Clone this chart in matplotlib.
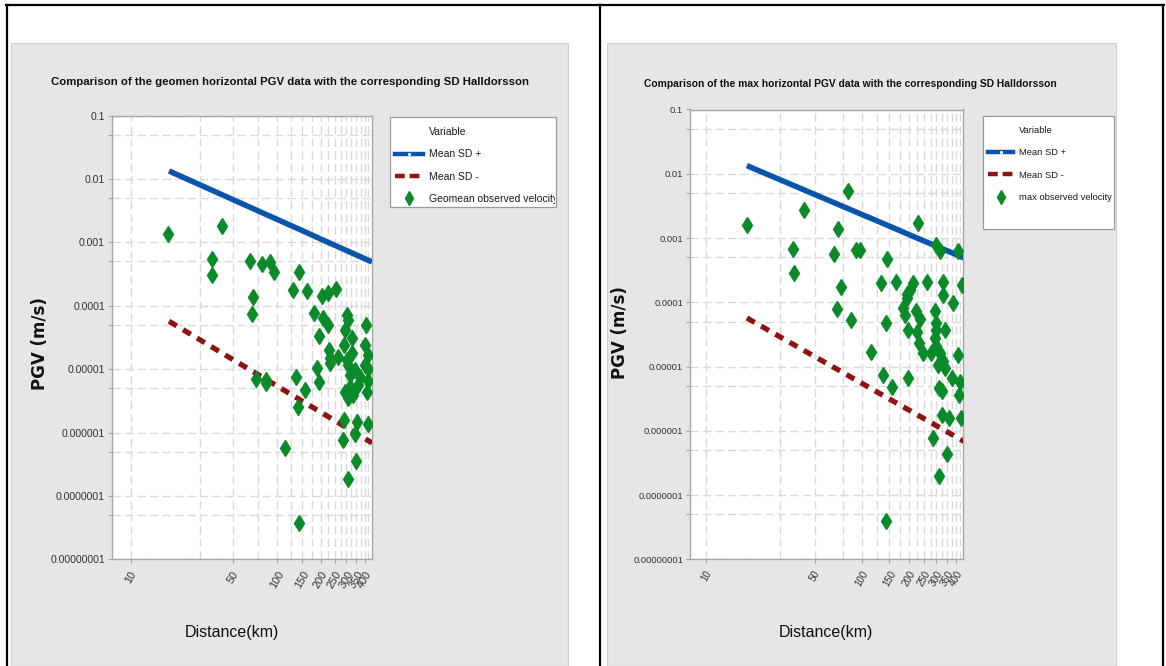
import matplotlib
matplotlib.use('Agg')
import matplotlib.pyplot as plt
from matplotlib import font_manager
from matplotlib.patches import Rectangle
from matplotlib.lines import Line2D
from matplotlib.transforms import Bbox, TransformedBbox
from matplotlib.ticker import FixedLocator, NullFormatter, FixedFormatter

# ---------------- data ----------------
line_dist = [18.3, 20, 25, 30, 40, 50, 70, 100, 150, 200, 300, 400, 450]
mean_sd_plus = [0.0134, 0.0122, 0.00968, 0.00803, 0.00597, 0.00474, 0.00335,
                0.00232, 0.00153, 0.00113, 0.000746, 0.000554, 0.000491]
mean_sd_minus = [5.7e-5, 5.03e-5, 3.70e-5, 2.88e-5, 1.93e-5, 1.42e-5, 8.94e-6,
                 5.46e-6, 3.12e-6, 2.10e-6, 1.20e-6, 8.05e-7, 6.85e-7]

geo_dist = [18.1, 42.4, 35.9, 36.2, 65.9, 79.6, 90.3, 95.7, 68.8, 67.8,
            143, 130, 161, 203, 225, 256, 180, 208, 225, 301,
            309, 407, 195, 294, 327, 290, 228, 264, 233, 327,
            425, 402, 309, 345, 316, 373, 425, 189, 194, 157,
            316, 334, 414, 309, 290, 355, 420, 284, 344, 309,
            349, 141.6, 114.6, 72.1, 84, 85, 135, 141, 231, 301,
            362, 294, 402, 425]
geo_pgv = [1.34e-3, 1.82e-3, 5.4e-4, 3.1e-4, 5.1e-4, 4.6e-4, 4.9e-4, 3.4e-4, 1.38e-4, 7.3e-5,
           3.4e-4, 1.77e-4, 1.7e-4, 1.45e-4, 1.6e-4, 1.85e-4, 7.8e-5, 6.4e-5, 5.0e-5, 7.2e-5,
           6.0e-5, 4.9e-5, 3.3e-5, 4.1e-5, 3.07e-5, 2.4e-5, 2.0e-5, 1.57e-5, 1.24e-5, 1.78e-5,
           1.67e-5, 1.16e-5, 1.16e-5, 9.7e-6, 8.1e-6, 7.6e-6, 6.4e-6, 1.03e-5, 6.2e-6, 4.7e-6,
           5.3e-6, 3.9e-6, 4.4e-6, 3.5e-6, 1.58e-6, 1.49e-6, 1.37e-6, 7.6e-7, 9.5e-7, 1.85e-7,
           3.6e-7, 3.8e-8, 5.65e-7, 6.9e-6, 6.8e-6, 6.0e-6, 7.4e-6, 2.5e-6, 1.5e-5, 1.4e-5,
           5.6e-6, 4.4e-6, 2.4e-5, 1.0e-5]

max_dist = [18.4, 42.7, 36.3, 36.6, 70.5, 81.3, 66.4, 91.2, 97, 73,
            144, 228, 298, 316, 414, 132, 164, 211, 260, 332,
            436, 195, 332, 203, 69.1, 85.3, 142, 115, 136, 156,
            196, 196, 184, 189, 222, 235, 226, 233, 245, 276,
            294, 298, 296, 294, 340, 385, 316, 307, 332, 340,
            376, 312, 328, 414, 424, 420, 324, 361, 429, 286,
            353, 312, 142.5, 193, 298]
max_pgv = [1.6e-3, 2.7e-3, 6.8e-4, 2.9e-4, 1.37e-3, 5.3e-3, 5.7e-4, 6.4e-4, 6.4e-4, 1.75e-4,
           4.7e-4, 1.7e-3, 7.8e-4, 6.2e-4, 6.3e-4, 2.0e-4, 2.1e-4, 2.0e-4, 2.1e-4, 2.1e-4,
           1.87e-4, 1.35e-4, 1.31e-4, 1.56e-4, 7.8e-5, 5.3e-5, 4.7e-5, 1.71e-5, 7.4e-6, 4.8e-6,
           6.7e-6, 3.7e-5, 8.1e-5, 6.4e-5, 7.2e-5, 5.5e-5, 3.5e-5, 2.3e-5, 1.6e-5, 1.6e-5,
           7.2e-5, 4.7e-5, 3.7e-5, 2.8e-5, 3.7e-5, 9.7e-5, 1.6e-5, 1.06e-5, 1.2e-5, 9.4e-6,
           6.6e-6, 4.6e-6, 4.1e-6, 1.5e-5, 5.8e-6, 3.6e-6, 1.77e-6, 1.57e-6, 1.57e-6, 7.7e-7,
           4.4e-7, 2.0e-7, 4.0e-8, 1.16e-4, 2.05e-5]

x_tick_vals = [10, 50, 100, 150, 200, 250, 300, 350, 400]
x_tick_labels = ['10', '50', '100', '150', '200', '250', '300', '350', '400']
x_grid_vals = [10, 30, 50, 75, 100, 125, 150, 175, 200, 225, 250, 275,
               300, 325, 350, 375, 400, 425]
y_tick_vals = [1e-1, 1e-2, 1e-3, 1e-4, 1e-5, 1e-6, 1e-7, 1e-8]
y_tick_labels = ['0.1', '0.01', '0.001', '0.0001', '0.00001', '0.000001',
                 '0.0000001', '0.00000001']
y_minor_vals = [5e-2, 5e-3, 5e-4, 5e-5, 5e-6, 5e-7, 5e-8]

titles = ['Comparison of the geomen horizontal PGV data with the corresponding SD Halldorsson',
          'Comparison of the max horizontal PGV data with the corresponding SD Halldorsson']
scatter_labels = ['Geomean observed velocity', 'max observed velocity']

# ---------------- style ----------------
names = {f.name for f in font_manager.fontManager.ttflist}
NARROW = 'Liberation Sans Narrow' if 'Liberation Sans Narrow' in names else 'Liberation Sans'
plt.rcParams['font.family'] = [NARROW, 'DejaVu Sans']

BLUE = '#0a55ab'
RED = '#8e1414'
GREEN = '#0b8a2a'
PANEL = '#e6e6e6'
SPINE = '#a6a6a6'
GRID = '#dadada'

W, H = 1166, 666
fig = plt.figure(figsize=(W / 100, H / 100), dpi=100)
fig.patch.set_facecolor('white')


def fx(x):
    return x / W


def fy(y):
    return 1 - y / H


# outer table borders
for (x0, y0, x1, y1) in [(6, 5, 1164, 5), (7, 5, 7, 666), (600, 5, 600, 666), (1163, 5, 1163, 666)]:
    fig.add_artist(Line2D([fx(x0), fx(x1)], [fy(y0), fy(y1)], transform=fig.transFigure,
                          color='black', lw=1.6, zorder=5))

panels = [
    dict(panel=(11, 43, 568, 666), ax=(112, 115.6, 372, 559.3), xlim=(7.445, 449.5),
         title_x=290, title_y=82, ylab=(40, 344), xlab=(232, 633),
         leg_box=(390, 117, 556, 207), leg_anchor=(395, 127), sc=1.0, lsp=1.18,
         dist=geo_dist, pgv=geo_pgv),
    dict(panel=(607, 43, 1116, 666), ax=(690, 109.5, 963, 559.3), xlim=(7.90, 444),
         title_x=850, title_y=84, ylab=(620, 333), xlab=(826, 633),
         leg_box=(983, 116, 1114, 229), leg_anchor=(988, 126), sc=0.9, lsp=1.42,
         dist=max_dist, pgv=max_pgv),
]

for i, p in enumerate(panels):
    sc = p['sc']
    x0, y0, x1, y1 = p['panel']
    fig.add_artist(Rectangle((fx(x0), fy(y1)), fx(x1) - fx(x0), fy(y0) - fy(y1),
                             transform=fig.transFigure, facecolor=PANEL,
                             edgecolor='#cfcfcf', lw=0.8, zorder=-3))
    ax0, ay0, ax1, ay1 = p['ax']
    ax = fig.add_axes([fx(ax0), fy(ay1), fx(ax1) - fx(ax0), fy(ay0) - fy(ay1)])
    ax.set_facecolor('white')
    ax.set_xscale('log')
    ax.set_yscale('log')
    ax.set_xlim(*p['xlim'])
    ax.set_ylim(1e-8, 0.1)

    ax.xaxis.set_major_locator(FixedLocator(x_tick_vals))
    ax.xaxis.set_major_formatter(FixedFormatter(x_tick_labels))
    ax.xaxis.set_minor_locator(FixedLocator(x_grid_vals))
    ax.xaxis.set_minor_formatter(NullFormatter())
    ax.yaxis.set_major_locator(FixedLocator(y_tick_vals))
    ax.yaxis.set_major_formatter(FixedFormatter(y_tick_labels))
    ax.yaxis.set_minor_locator(FixedLocator(y_minor_vals))
    ax.yaxis.set_minor_formatter(NullFormatter())

    ax.tick_params(axis='x', which='major', direction='out', length=3, width=0.8,
                   color=SPINE, labelsize=7.8 * sc, labelcolor='#333333', pad=4)
    ax.tick_params(axis='x', which='minor', length=0)
    ax.tick_params(axis='y', which='both', direction='out', length=3, width=0.8,
                   color=SPINE, labelsize=7.6 * sc, labelcolor='#333333', pad=2)
    for lab in ax.get_xticklabels():
        lab.set_rotation(60)
        lab.set_ha('center')
        lab.set_va('top')
    for s in ax.spines.values():
        s.set_color(SPINE)
        s.set_linewidth(1.0)

    ax.grid(True, which='both', axis='both', color=GRID, lw=1.0, ls=(0, (6, 3)))
    ax.set_axisbelow(True)

    ax.plot(line_dist, mean_sd_plus, color=BLUE, lw=4.0, solid_capstyle='butt',
            label='Mean SD +', zorder=3)
    ax.plot(line_dist, mean_sd_minus, color=RED, lw=3.8, ls=(0, (1.7, 1.4)),
            dash_capstyle='butt', label='Mean SD -', zorder=3)
    ax.plot(p['dist'], p['pgv'], ls='none', marker='d', ms=8.5, color=GREEN,
            mec=GREEN, label=scatter_labels[i], zorder=4)

    # texts
    fig.text(fx(p['title_x']), fy(p['title_y']), titles[i], ha='center', va='center',
             fontsize=8.2 * sc, fontweight='bold', color='#111111')
    fig.text(fx(p['ylab'][0]), fy(p['ylab'][1]), 'PGV (m/s)', rotation=90,
             ha='center', va='center', fontsize=12, fontweight='bold',
             family=['DejaVu Sans'], color='#111111')
    fig.text(fx(p['xlab'][0]), fy(p['xlab'][1]), 'Distance(km)', ha='center',
             va='center', fontsize=11.5, color='#111111')

    # legend box
    lx0, ly0, lx1, ly1 = p['leg_box']
    fig.add_artist(Rectangle((fx(lx0), fy(ly1)), fx(lx1) - fx(lx0), fy(ly0) - fy(ly1),
                             transform=fig.transFigure, facecolor='white',
                             edgecolor='#9a9a9a', lw=0.9, zorder=-1))
    h_title = Line2D([], [], ls='none')
    h_blue = Line2D([], [], color=BLUE, lw=3.2, marker='.', ms=2.5, mfc='white', mec='white')
    h_red = Line2D([], [], color=RED, lw=3.2, ls=(0, (2.2, 1.1)), dash_capstyle='butt')
    h_green = Line2D([], [], ls='none', marker='d', ms=7, color=GREEN)
    leg = ax.legend([h_title, h_blue, h_red, h_green],
                    ['Variable', 'Mean SD +', 'Mean SD -', scatter_labels[i]],
                    loc='upper left',
                    bbox_to_anchor=(fx(p['leg_anchor'][0]), fy(p['leg_anchor'][1])),
                    bbox_transform=fig.transFigure, frameon=False, fontsize=7.5 * sc,
                    borderpad=0, borderaxespad=0, handlelength=2.7, handletextpad=0.6,
                    labelspacing=p['lsp'], numpoints=1)
    clip = TransformedBbox(Bbox.from_extents(fx(lx0), fy(ly1), fx(lx1) - 0.001, fy(ly0)),
                           fig.transFigure)
    for t in leg.get_texts():
        t.set_color('#1a1a1a')
        t.set_clip_box(clip)
        t.set_clip_on(True)

fig.savefig('out.png', dpi=100)
